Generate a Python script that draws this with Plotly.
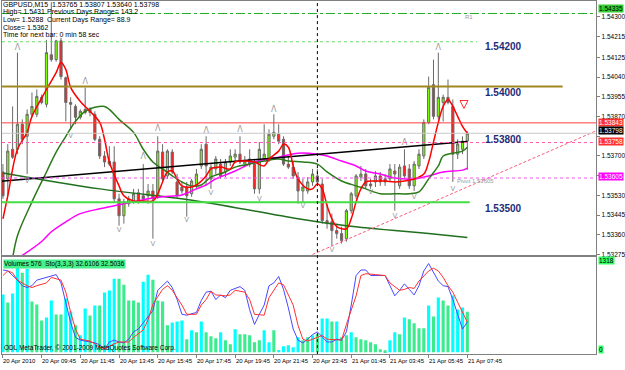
import plotly.graph_objects as go

# ---------------- data ----------------
open_ = [1.53631,1.53601,1.53729,1.53729,1.53837,1.53785,1.53880,1.53880,1.53953,1.53923,
         1.54137,1.54116,1.54197,1.54038,1.53931,1.53914,1.53867,1.53901,1.53888,1.53880,
         1.53772,1.53700,1.53678,1.53674,1.53515,1.53442,1.53494,1.53502,1.53541,1.53528,
         1.53528,1.53549,1.53528,1.53717,1.53614,1.53717,1.53588,1.53566,1.53566,1.53537,
         1.53571,1.53657,1.53751,1.53601,1.53644,1.53665,1.53631,1.53674,1.53695,1.53708,
         1.53665,1.53687,1.53665,1.53558,1.53687,1.53687,1.53785,1.53794,1.53772,1.53665,
         1.53652,1.53609,1.53549,1.53549,1.53588,1.53614,1.53579,1.53421,1.53416,1.53378,
         1.53365,1.53343,1.53464,1.53528,1.53609,1.53622,1.53579,1.53588,1.53614,1.53601,
         1.53601,1.53635,1.53571,1.53657,1.53644,1.53571,1.53657,1.53700,1.53845,1.54008,
         1.53871,1.53931,1.53953,1.53914,1.53708,1.53729,1.53765]
high_ = [1.53665,1.53751,1.53914,1.54146,1.53858,1.53901,1.53974,1.53987,1.53965,1.54201,
         1.54364,1.54201,1.54210,1.54043,1.53953,1.53923,1.53901,1.53995,1.53910,1.53893,
         1.53785,1.53721,1.53742,1.53742,1.53537,1.53515,1.53528,1.53558,1.53558,1.53665,
         1.53579,1.53579,1.53785,1.53751,1.53729,1.53729,1.53622,1.53588,1.53588,1.53601,
         1.53644,1.53751,1.53785,1.53665,1.53700,1.53687,1.53687,1.53729,1.53729,1.53785,
         1.53700,1.53729,1.53687,1.53760,1.53837,1.53815,1.53880,1.53837,1.53785,1.53700,
         1.53674,1.53631,1.53601,1.53609,1.53644,1.53644,1.53601,1.53494,1.53451,1.53408,
         1.53395,1.53472,1.53545,1.53622,1.53657,1.53644,1.53601,1.53635,1.53631,1.53622,
         1.53665,1.53665,1.53665,1.53729,1.53665,1.53678,1.53729,1.53858,1.54043,1.54116,
         1.54146,1.53965,1.54030,1.53944,1.53772,1.53785,1.53807]
low_ = [1.53515,1.53528,1.53687,1.53708,1.53751,1.53622,1.53867,1.53867,1.53923,1.53910,
        1.54107,1.54107,1.54030,1.53849,1.53815,1.53837,1.53858,1.53880,1.53871,1.53764,
        1.53687,1.53652,1.53657,1.53502,1.53399,1.53408,1.53481,1.53494,1.53494,1.53502,
        1.53494,1.53343,1.53515,1.53592,1.53601,1.53622,1.53519,1.53537,1.53438,1.53524,
        1.53558,1.53644,1.53571,1.53558,1.53622,1.53601,1.53609,1.53657,1.53678,1.53665,
        1.53652,1.53652,1.53537,1.53537,1.53678,1.53674,1.53772,1.53751,1.53657,1.53644,
        1.53601,1.53494,1.53502,1.53537,1.53571,1.53579,1.53408,1.53386,1.53313,1.53343,
        1.53322,1.53330,1.53451,1.53515,1.53592,1.53558,1.53558,1.53566,1.53571,1.53571,
        1.53588,1.53464,1.53558,1.53601,1.53558,1.53549,1.53644,1.53687,1.53837,1.53858,
        1.53858,1.53849,1.53923,1.53588,1.53687,1.53708,1.53640]
close_ = [1.53528,1.53721,1.53695,1.53837,1.53772,1.53880,1.53914,1.53957,1.53931,1.54146,
          1.54116,1.54197,1.54043,1.53931,1.53923,1.53867,1.53893,1.53888,1.53901,1.53772,
          1.53700,1.53674,1.53665,1.53515,1.53442,1.53502,1.53515,1.53537,1.53502,1.53515,
          1.53549,1.53515,1.53721,1.53601,1.53721,1.53631,1.53528,1.53549,1.53528,1.53592,
          1.53622,1.53729,1.53657,1.53652,1.53687,1.53614,1.53674,1.53700,1.53708,1.53674,
          1.53678,1.53665,1.53558,1.53729,1.53708,1.53794,1.53802,1.53764,1.53665,1.53652,
          1.53614,1.53549,1.53566,1.53588,1.53622,1.53588,1.53421,1.53408,1.53378,1.53365,
          1.53335,1.53464,1.53537,1.53614,1.53622,1.53571,1.53571,1.53614,1.53588,1.53588,
          1.53644,1.53622,1.53652,1.53614,1.53571,1.53665,1.53708,1.53845,1.53996,1.53871,
          1.53953,1.53953,1.53931,1.53708,1.53751,1.53764,1.53798]

volumes = [822,709,836,1233,1134,1190,723,680,453,496,
           737,538,538,765,581,383,241,623,524,666,
           666,850,879,1049,1049,964,737,737,709,1006,
           1105,1034,737,723,383,425,439,453,184,312,
           283,439,283,227,198,283,170,113,326,255,
           255,241,142,170,312,142,312,30,85,99,
           71,213,170,213,241,255,482,482,439,439,
           213,241,283,213,184,170,142,113,43,28,
           170,283,255,496,468,411,340,340,666,510,
           779,737,666,808,609,638,576]
vol_kind = list("cgccgcgggc" "cggccgccgc" "gcccgggggc" "cggggcccgc"
                "gcgggcggcg" "ggggccgccc" "ccggcgccgc" "ggcggggggg"
                "ccgcggggcg" "cggcccg")

# moving averages (bar index, value)
ma_fast_i = [0,1,3,5,6,9,11,12,13,14,16,18,20,21,22,24,25,27,29,31,32,33,34,35,36,37,39,40,42,43,45,47,48,50,52,54,55,57,58,59,60,61,63,64,65,66,67,68,69,71,72,73,74,75,77,79,81,83,85,87,88,89,90,91,92,93,94,95,96]
ma_fast_v = [1.53429,1.53528,1.53729,1.53802,1.53871,1.53987,1.54060,1.54103,1.54073,1.53996,1.53935,1.53893,1.53845,1.53772,1.53674,1.53571,1.53528,1.53506,1.53506,1.53506,1.53537,1.53588,1.53631,1.53635,1.53601,1.53571,1.53566,1.53575,1.53614,1.53644,1.53652,1.53644,1.53674,1.53678,1.53674,1.53657,1.53687,1.53721,1.53751,1.53738,1.53657,1.53601,1.53558,1.53558,1.53579,1.53558,1.53485,1.53429,1.53395,1.53386,1.53429,1.53502,1.53558,1.53588,1.53592,1.53592,1.53588,1.53592,1.53601,1.53622,1.53674,1.53760,1.53845,1.53914,1.53944,1.53914,1.53871,1.53828,1.53798]
ma_mid_i = [2,3,6,9,11,13,15,17,19,21,22,24,27,29,31,33,35,37,39,41,43,46,48,51,54,57,59,62,65,67,70,73,75,78,81,84,86,88,90,91,93,95,96]
ma_mid_v = [1.53258,1.53356,1.53502,1.53631,1.53717,1.53785,1.53850,1.53893,1.53910,1.53914,1.53901,1.53858,1.53802,1.53729,1.53674,1.53644,1.53614,1.53588,1.53571,1.53575,1.53609,1.53631,1.53652,1.53665,1.53678,1.53687,1.53678,1.53674,1.53665,1.53631,1.53592,1.53571,1.53558,1.53537,1.53537,1.53537,1.53545,1.53601,1.53657,1.53700,1.53712,1.53721,1.53738]
ma_slow_i = [4,8,10,13,16,20,23,27,30,33,37,40,42,44,48,52,57,61,65,67,70,73,75,78,81,85,88,91,95,96]
ma_slow_v = [1.53271,1.53331,1.53373,1.53416,1.53451,1.53472,1.53485,1.53502,1.53515,1.53524,1.53532,1.53558,1.53575,1.53601,1.53635,1.53674,1.53695,1.53712,1.53708,1.53700,1.53678,1.53657,1.53635,1.53622,1.53605,1.53601,1.53614,1.53631,1.53639,1.53648]
ma_long_i = [0,20,40,61,71,77,81,88,96]
ma_long_v = [1.53627,1.53558,1.53506,1.53429,1.53399,1.53386,1.53378,1.53365,1.53348]

# trend lines (bar index, price)
trend_black_i = [-1, 96]
trend_black_v = [1.53590, 1.53762]
trend_pink_i = [64, 123]
trend_pink_v = [1.53275, 1.53812]

# fractals
fr_up_i = [3,17,29,32,42,49,56,83,90]
fr_up_v = [1.54167,1.54021,1.53695,1.53815,1.53807,1.53811,1.53897,1.53755,1.54167]
fr_dn_i = [5,14,24,31,38,43,53,62,68,76,81,85,93]
fr_dn_v = [1.53592,1.53785,1.53378,1.53318,1.53421,1.53537,1.53515,1.53481,1.53292,1.53545,1.53438,1.53524,1.53555]

# sell-signal arrow
arrow_i = [95.3]
arrow_v = [1.53905]

# stochastic
stk_i = [0,1,3,4,5,6,7,9,11,12,13,14,15,16,17,18,19,20,21,22,23,24,25,26,27,28,29,31,32,33,34,35,36,37,38,40,41,42,43,44,45,46,47,49,50,51,52,53,54,55,56,57,58,59,60,61,62,63,64,65,66,67,68,69,70,71,72,73,74,75,76,77,79,80,81,82,83,84,85,86,87,88,89,90,91,92,93,94,95,96]
stk_v = [89,88,78,72,70,72,78,81,84,75,54,32,16,13,12,11,10,8,3,11,13,11,10,14,22,25,32,45,67,72,77,70,57,41,40,43,56,65,66,57,62,59,67,71,67,46,30,41,51,72,75,82,68,48,25,13,10,14,19,22,16,11,11,14,13,22,51,83,89,89,83,83,83,72,61,67,74,68,62,72,88,96,86,77,72,71,57,40,25,32.61]
std_i = [0,1,2,3,5,6,7,9,10,12,13,14,15,16,18,19,20,21,23,24,26,27,29,30,31,33,34,35,37,38,40,41,42,43,44,46,47,48,50,51,52,54,55,57,58,60,61,62,63,65,66,67,69,70,71,73,74,75,77,79,80,82,83,84,85,86,88,89,90,91,92,93,94,95,96]
std_v = [83,88,86,78,72,70,72,75,81,78,65,43,25,14,12,9,5,4,9,11,11,16,24,35,52,68,72,67,51,41,41,51,57,66,62,61,62,67,65,57,41,40,59,75,73,51,29,14,12,16,18,14,13,13,30,61,83,85,84,83,75,67,68,70,69,77,88,91,88,81,72,65,54,43,32.50]

x_tick_idx = [0,8,16,24,32,40,48,56,64,72,80,88,96]
x_tick_txt = ["20 Apr 2010","20 Apr 09:45","20 Apr 11:45","20 Apr 13:45","20 Apr 15:45",
              "20 Apr 17:45","20 Apr 19:45","20 Apr 21:45","20 Apr 23:45","21 Apr 01:45",
              "21 Apr 03:45","21 Apr 05:45","21 Apr 07:45"]
y_tick_vals = [1.54300,1.54215,1.54125,1.54040,1.53955,1.53870,1.53785,1.53700,1.53615,1.53530,1.53445,1.53360,1.53275]
y_tick_hidden = [1.53785, 1.53615]   # covered by the price boxes in the original

levels_txt = ["1.54200","1.54000","1.53800","1.53500"]
levels_val = [1.54200,1.54000,1.53800,1.53500]

# ---------------- figure ----------------
W, H = 625, 370
def PX(x): return x / W
def PY(y): return 1 - y / H

F = "Liberation Sans, Arial, sans-serif"
GRAY = "#808080"
fig = go.Figure()

vcol = {"c": "#00FFFF", "g": "#3DEB8F"}
fig.add_trace(go.Bar(x=list(range(len(volumes))), y=volumes, xaxis="x2", yaxis="y2",
                     marker=dict(color=[vcol[k] for k in vol_kind], line=dict(width=0)),
                     hoverinfo="skip"))
fig.add_trace(go.Scatter(x=stk_i, y=stk_v, xaxis="x2", yaxis="y3", mode="lines",
                         line=dict(color="#4848FF", width=1)))
fig.add_trace(go.Scatter(x=std_i, y=std_v, xaxis="x2", yaxis="y3", mode="lines",
                         line=dict(color="#FF3030", width=1)))

# MA lines
fig.add_trace(go.Scatter(x=ma_long_i, y=ma_long_v, mode="lines", line=dict(color="#1F6F1F", width=1.5, shape="spline")))
fig.add_trace(go.Scatter(x=ma_slow_i, y=ma_slow_v, mode="lines", line=dict(color="#FF00FF", width=1.5, shape="spline")))
fig.add_trace(go.Scatter(x=ma_mid_i, y=ma_mid_v, mode="lines", line=dict(color="#2A7A1A", width=1.5, shape="spline")))
fig.add_trace(go.Scatter(x=trend_black_i, y=trend_black_v, mode="lines", line=dict(color="#000000", width=1.5)))
fig.add_trace(go.Scatter(x=trend_pink_i, y=trend_pink_v, mode="lines", line=dict(color="#FF5A7A", width=1, dash="3px,2px")))

fig.add_trace(go.Candlestick(x=list(range(len(open_))), open=open_, high=high_, low=low_, close=close_,
                             increasing=dict(fillcolor="#7CFC00", line=dict(color="#6A6A6A", width=1)),
                             decreasing=dict(fillcolor="#FF2020", line=dict(color="#6A6A6A", width=1)),
                             whiskerwidth=0))
fig.add_trace(go.Scatter(x=ma_fast_i, y=ma_fast_v, mode="lines", line=dict(color="#FF0000", width=1.5, shape="spline")))

fig.add_trace(go.Scatter(x=fr_up_i, y=fr_up_v, mode="text", text=["Λ"] * len(fr_up_i),
                         textfont=dict(color="#999999", size=8, family="DejaVu Sans")))
fig.add_trace(go.Scatter(x=fr_dn_i, y=fr_dn_v, mode="text", text=["V"] * len(fr_dn_i),
                         textfont=dict(color="#999999", size=7, family="DejaVu Sans")))
fig.add_trace(go.Scatter(x=arrow_i, y=arrow_v, mode="markers",
                         marker=dict(symbol="arrow-down-open", size=8, color="#FF3030",
                                     line=dict(color="#FF3030", width=1))))

shapes = []
def hline(price, color, width=1, dash="solid", x1=1, x1ref="paper"):
    shapes.append(dict(type="line", xref="paper" if x1ref == "paper" else "x", yref="y",
                       x0=PX(2) if x1ref == "paper" else -0.2, x1=x1,
                       y0=price, y1=price, line=dict(color=color, width=width, dash=dash)))

hline(1.54315, "#22B022", 1, "dashdot", PX(604))
hline(1.54193, "#66DD66", 1, "dot", 98, "x")
hline(1.54000, "#A08A20", 2, "solid", 115.7, "x")
hline(1.53843, "#FF4040", 1, "solid", PX(604))
hline(1.53798, "#C8C8C8", 1, "solid", PX(604))
hline(1.53758, "#FF55AA", 1, "dot", PX(604))
hline(1.53605, "#EE55EE", 1, "dot", PX(604))
hline(1.53500, "#44DD44", 2, "solid", 96.5, "x")
shapes.append(dict(type="line", xref="x", yref="paper", x0=65, x1=65, y0=PY(357), y1=PY(1),
                   line=dict(color="#000000", width=1, dash="dot")))
fig.update_layout(shapes=shapes)

ann = []
def T(x, y, text, size=7, color="#000000", xref="paper", yref="paper", xa="left", ya="middle", bg=None, bold=False, fam=F):
    d = dict(x=x, y=y, xref=xref, yref=yref, text=("<b>%s</b>" % text) if bold else text, showarrow=False,
             xanchor=xa, yanchor=ya, font=dict(size=size, color=color, family=fam), borderpad=0)
    if bg:
        d["bgcolor"] = bg
    ann.append(d)

# top-left info
T(PX(2), PY(5), "GBPUSD,M15  1.53765 1.53807 1.53640 1.53798")
T(PX(2), PY(12.5), "High= 1.5431")
T(PX(47), PY(12.5), "Previous Days Range= 143.2")
T(PX(2), PY(20), "Low= 1.5288")
T(PX(47), PY(20), "Current Days Range= 88.9")
T(PX(2), PY(27.5), "Close= 1.5362")
T(PX(2), PY(35), "Time for next bar: 0 min 58 sec")

for t, v in zip(levels_txt, levels_val):
    T(PX(490), v, t, size=10, color="#1E2C78", yref="y", ya="top", bold=True)
T(PX(470), PY(17), "R1", size=6, color="#999999")
T(PX(462), PY(182), "Pivot 1.53605", size=6, color="#999999")

# right price boxes (placed where the original stacks them)
for ypix, txt, bg, fc in [(9, "1.54335", "#33CC33", "#000000"),
                          (123, "1.53843", "#FF3030", "#FFFFFF"),
                          (132, "1.53798", "#000000", "#FFFFFF"),
                          (143, "1.53758", "#FF3030", "#FFFFFF"),
                          (178, "1.53605", "#FF00FF", "#FFFFFF")]:
    T(PX(606), PY(ypix), txt, size=6.5, color=fc, bg=bg)
T(PX(606), PY(263), "1318", size=6.5, bg="#33FF66")
T(PX(606), PY(352), "0", size=6.5, bg="#33FF66")

# lower panel texts
T(PX(3), PY(266), "Volumes 576  Sto(3,3,3) 32.6106 32.5036", size=6.5, bg="#44F08A")
T(PX(3), PY(351), "ODL MetaTrader, © 2001-2009 MetaQuotes Software Corp.", size=6.5)

for i, t in zip(x_tick_idx, x_tick_txt):
    T(i - 0.1, PY(363.5), t, size=6, xref="x2")

fig.update_layout(annotations=ann)

xr = [-0.2, 122.65]
ax_common = dict(showgrid=False, zeroline=False, showline=True, linecolor=GRAY, linewidth=1, mirror=True)
fig.update_layout(
    width=W, height=H, margin=dict(l=0, r=0, t=0, b=0),
    paper_bgcolor="white", plot_bgcolor="white", showlegend=False,
    boxgap=0.35, bargap=0.35,
    xaxis=dict(domain=[PX(2), PX(604)], range=xr, anchor="y", showticklabels=False,
               rangeslider=dict(visible=False), **ax_common),
    yaxis=dict(domain=[PY(257), PY(1)], range=[1.53273, 1.54369], side="right", anchor="x",
               tickvals=y_tick_vals,
               ticktext=["" if v in y_tick_hidden else "%.5f" % v for v in y_tick_vals],
               ticks="outside", ticklen=3, tickcolor=GRAY,
               tickfont=dict(size=6.5, family=F, color="#000000"), **ax_common),
    xaxis2=dict(domain=[PX(2), PX(604)], range=xr, anchor="y2", showticklabels=False,
                tickvals=x_tick_idx, ticks="outside", ticklen=3, tickcolor=GRAY, **ax_common),
    yaxis2=dict(domain=[PY(357), PY(259)], range=[-28, 1360], side="right", anchor="x2",
                showticklabels=False, **ax_common),
    yaxis3=dict(overlaying="y2", range=[-2.15, 103.2], visible=False),
)
fig.write_html("out.html")
